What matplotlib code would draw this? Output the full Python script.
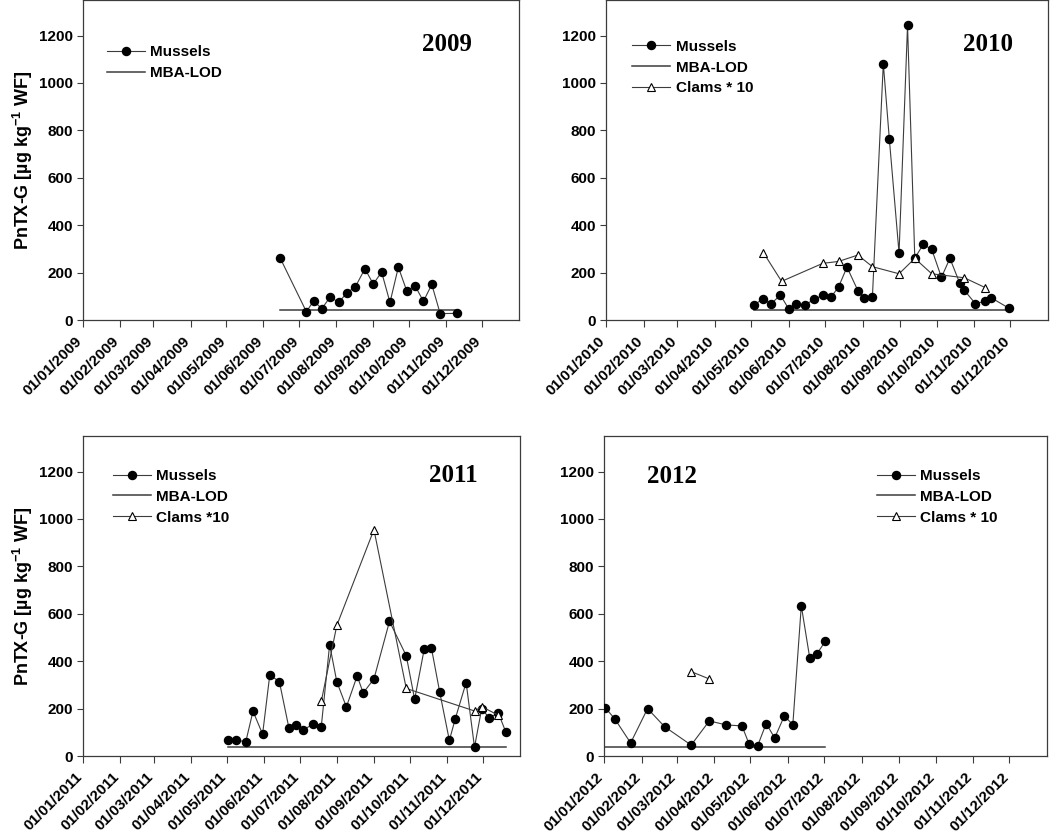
"""PnTX-G in mussels and clams, 2009-2012, four yearly panels."""

import matplotlib

matplotlib.use("Agg")

import matplotlib.pyplot as plt
import matplotlib.transforms as mtransforms
import pandas as pd

plt.rcParams["font.family"] = ["Liberation Sans", "DejaVu Sans"]
plt.rcParams["font.weight"] = "bold"
plt.rcParams["mathtext.fontset"] = "custom"
plt.rcParams["mathtext.rm"] = "Liberation Sans"
plt.rcParams["mathtext.bf"] = "Liberation Sans:bold"

# ---- data (µg/kg) ----
mussel_dates_2009 = ["2009-06-15", "2009-07-07", "2009-07-13", "2009-07-20", "2009-07-27",
                     "2009-08-03", "2009-08-10", "2009-08-17", "2009-08-25", "2009-09-01",
                     "2009-09-08", "2009-09-15", "2009-09-22", "2009-09-29", "2009-10-06",
                     "2009-10-13", "2009-10-20", "2009-10-27", "2009-11-10"]
mussels_2009 = [262, 35, 80, 48, 98, 74, 115, 140, 216, 152, 202, 74, 223, 123, 144, 79,
                150, 27, 28]

mussel_dates_2010 = ["2010-05-03", "2010-05-11", "2010-05-17", "2010-05-25", "2010-06-01",
                     "2010-06-07", "2010-06-14", "2010-06-22", "2010-06-29", "2010-07-06",
                     "2010-07-12", "2010-07-19", "2010-07-28", "2010-08-02", "2010-08-09",
                     "2010-08-18", "2010-08-23", "2010-08-31", "2010-09-07", "2010-09-13",
                     "2010-09-20", "2010-09-27", "2010-10-05", "2010-10-12", "2010-10-20",
                     "2010-10-24", "2010-11-02", "2010-11-10", "2010-11-15", "2010-11-30"]
mussels_2010 = [63, 90, 67, 105, 46, 69, 63, 87, 105, 98, 139, 223, 124, 91, 97, 1082, 762,
                282, 1243, 261, 319, 298, 180, 260, 157, 125, 69, 79, 94, 49]
clam_dates_2010 = ["2010-05-11", "2010-05-26", "2010-06-29", "2010-07-12", "2010-07-28",
                   "2010-08-09", "2010-08-31", "2010-09-13", "2010-09-27", "2010-10-24",
                   "2010-11-10"]
clams_2010 = [284, 163, 239, 247, 274, 225, 195, 260, 195, 178, 137]

mussel_dates_2011 = ["2011-05-02", "2011-05-09", "2011-05-17", "2011-05-23", "2011-05-31",
                     "2011-06-06", "2011-06-14", "2011-06-22", "2011-06-28", "2011-07-04",
                     "2011-07-12", "2011-07-19", "2011-07-26", "2011-08-01", "2011-08-09",
                     "2011-08-18", "2011-08-23", "2011-09-01", "2011-09-14", "2011-09-28",
                     "2011-10-05", "2011-10-13", "2011-10-19", "2011-10-26", "2011-11-03",
                     "2011-11-08", "2011-11-17", "2011-11-24", "2011-11-30", "2011-12-06",
                     "2011-12-14", "2011-12-20"]
mussels_2011 = [66, 66, 61, 189, 92, 342, 314, 118, 132, 110, 134, 123, 470, 313, 207, 338,
                266, 325, 568, 423, 239, 451, 456, 268, 66, 158, 310, 37, 200, 162, 180, 103]
clam_dates_2011 = ["2011-07-19", "2011-08-01", "2011-09-01", "2011-09-28", "2011-11-24",
                   "2011-11-30", "2011-12-14"]
clams_2011 = [230, 551, 955, 285, 190, 208, 172]

mussel_dates_2012 = ["2012-01-02", "2012-01-10", "2012-01-23", "2012-02-06", "2012-02-20",
                     "2012-03-13", "2012-03-28", "2012-04-11", "2012-04-24", "2012-04-30",
                     "2012-05-07", "2012-05-14", "2012-05-21", "2012-05-29", "2012-06-05",
                     "2012-06-12", "2012-06-19", "2012-06-25", "2012-07-02"]
mussels_2012 = [204, 156, 55, 200, 124, 46, 148, 131, 127, 49, 44, 137, 76, 169, 132, 634,
                413, 432, 485]
clam_dates_2012 = ["2012-03-13", "2012-03-28"]
clams_2012 = [356, 325]

mba_lod = {2009: 44, 2010: 41, 2011: 40, 2012: 40}
clam_labels = {2010: "Clams * 10", 2011: "Clams *10", 2012: "Clams * 10"}

panels = [
    (2009, mussel_dates_2009, mussels_2009, None, None),
    (2010, mussel_dates_2010, mussels_2010, clam_dates_2010, clams_2010),
    (2011, mussel_dates_2011, mussels_2011, clam_dates_2011, clams_2011),
    (2012, mussel_dates_2012, mussels_2012, clam_dates_2012, clams_2012),
]

# axes boxes in pixels: left, right, top, bottom
boxes = {
    2009: (83, 519, 0, 320),
    2010: (606, 1048, 0, 320),
    2011: (83, 520, 436, 756),
    2012: (604, 1047, 436, 756),
}
year_pos = {2009: (0.835, 0.862), 2010: (0.864, 0.862), 2011: (0.847, 0.875),
            2012: (0.153, 0.873)}
legend_pos = {2009: (0.054, 0.859), 2010: (0.059, 0.876), 2011: (0.068, 0.897),
              2012: (0.616, 0.897)}

W, H = 1050, 832
LINE = "#3c3c3c"

fig = plt.figure(figsize=(W / 100, H / 100), dpi=100)
label_shift = mtransforms.ScaledTranslation(-0.03, 0.02, fig.dpi_scale_trans)

for year, mdates_str, mvals, cdates_str, cvals in panels:
    left, right, top, bottom = boxes[year]
    ax = fig.add_axes([left / W, 1 - bottom / H, (right - left) / W, (bottom - top) / H])

    md = pd.to_datetime(mdates_str)
    ax.plot(md, mvals, color=LINE, linewidth=0.8, marker="o", markersize=5.8,
            markerfacecolor="black", markeredgecolor="black", label="Mussels", zorder=3)
    ax.plot([md[0], md[-1]], [mba_lod[year]] * 2, color=LINE, linewidth=1.1,
            label="MBA-LOD", zorder=2)
    if cdates_str is not None:
        ax.plot(pd.to_datetime(cdates_str), cvals, color=LINE, linewidth=0.8, marker="^",
                markersize=6.3, markerfacecolor="white", markeredgecolor="black",
                markeredgewidth=0.8, label=clam_labels[year], zorder=4)

    ax.set_xlim(pd.Timestamp(f"{year}-01-01"), pd.Timestamp(f"{year + 1}-01-01"))
    ax.set_ylim(0, 1350)
    ax.set_yticks([0, 200, 400, 600, 800, 1000, 1200])
    months = pd.date_range(f"{year}-01-01", periods=12, freq="MS")
    ax.set_xticks(months)
    ax.set_xticklabels([m.strftime("%d/%m/%Y") for m in months], rotation=45, ha="right",
                       va="center", rotation_mode="anchor", fontweight="bold")
    ax.tick_params(axis="x", direction="out", length=5, width=0.8, color=LINE,
                   labelsize=11, pad=10)
    ax.tick_params(axis="y", direction="out", length=4, width=0.8, color=LINE,
                   labelsize=11, pad=3)
    for lab in ax.get_xticklabels():
        lab.set_transform(lab.get_transform() + label_shift)
    for lab in ax.get_yticklabels():
        lab.set_fontweight("bold")
    for sp in ax.spines.values():
        sp.set_color(LINE)
        sp.set_linewidth(0.9)

    if year in (2009, 2011):
        ax.set_ylabel(r"PnTX-G [µg kg$^{\mathbf{-1}}$ WF]", fontsize=13,
                      fontweight="bold", labelpad=3)

    ax.text(*year_pos[year], str(year), transform=ax.transAxes, ha="center", va="center",
            fontsize=18, fontweight="bold", family=["Liberation Serif", "DejaVu Serif"])

    ax.legend(loc="upper left", bbox_to_anchor=legend_pos[year], frameon=False,
              fontsize=11, numpoints=1, handlelength=2.5, handletextpad=0.35,
              labelspacing=0.45, borderpad=0, borderaxespad=0)

fig.savefig("out.png", dpi=100)
plt.close(fig)
